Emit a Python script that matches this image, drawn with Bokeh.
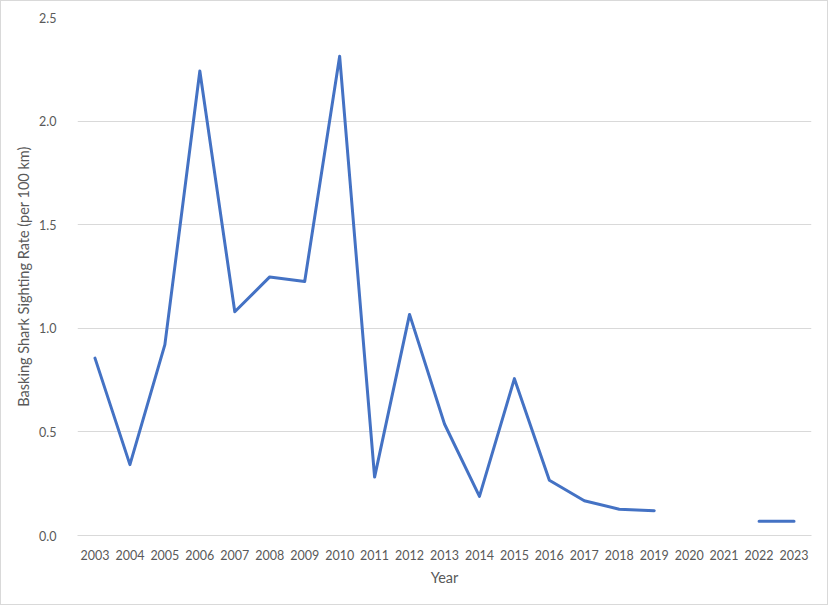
from bokeh.plotting import figure
from bokeh.models import FactorRange, FixedTicker, PrintfTickFormatter, Range1d, ColumnDataSource
from bokeh.embed import file_html
from bokeh.resources import INLINE
import numpy as np

years = [str(y) for y in range(2003, 2024)]
rates = [0.856, 0.342, 0.921, 2.242, 1.080, 1.248, 1.226, 2.313, 0.282, 1.067,
         0.538, 0.189, 0.757, 0.267, 0.168, 0.127, 0.120, np.nan, np.nan, 0.069, 0.069]
y_ticks = [0.0, 0.5, 1.0, 1.5, 2.0, 2.5]

FONT = "Lato"
TXT = "#595959"
GRID = "#D9D9D9"

p = figure(width=828, height=605, x_range=FactorRange(*years, range_padding=0),
           y_range=Range1d(0, 2.5), output_backend="svg", toolbar_location=None,
           min_border_left=76, min_border_right=18, min_border_top=16, min_border_bottom=71)
p.styles = {"border": "1px solid #D9D9D9"}
p.outline_line_color = None
p.background_fill_color = "white"
p.border_fill_color = "white"

src = ColumnDataSource(dict(x=years, y=rates))
p.line("x", "y", source=src, line_color="#4472C4", line_width=3,
       line_join="round", line_cap="round")

p.xgrid.grid_line_color = None
p.ygrid.grid_line_color = GRID
p.ygrid.grid_line_width = 1

p.yaxis.ticker = FixedTicker(ticks=y_ticks)
p.yaxis.formatter = PrintfTickFormatter(format="%.1f")
p.yaxis.axis_line_color = None
p.xaxis.axis_line_color = GRID
for ax in (p.xaxis[0], p.yaxis[0]):
    ax.major_tick_line_color = None
    ax.minor_tick_line_color = None
    ax.major_label_text_font = FONT
    ax.major_label_text_font_size = "12.5px"
    ax.major_label_text_color = TXT
    ax.axis_label_text_font = FONT
    ax.axis_label_text_font_size = "14.5px"
    ax.axis_label_text_font_style = "normal"
    ax.axis_label_text_color = TXT
p.yaxis.major_label_standoff = 15
p.xaxis.major_label_standoff = 8
p.yaxis.axis_label = "Basking Shark Sighting Rate (per 100 km)"
p.xaxis.axis_label = "Year"
p.yaxis.axis_label_standoff = 4
p.xaxis.axis_label_standoff = 6

open("out.html", "w").write(file_html(p, INLINE))
